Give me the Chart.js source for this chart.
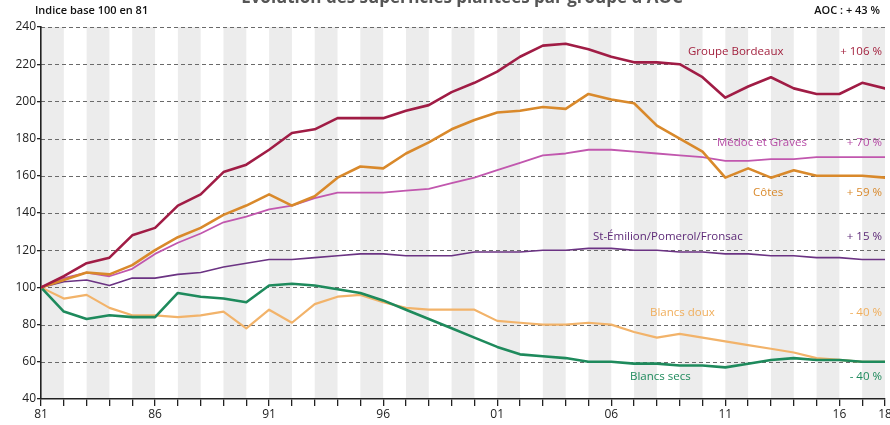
<!DOCTYPE html>
<html>
<head>
<meta charset="utf-8">
<script src="https://cdn.jsdelivr.net/npm/chart.js@4/dist/chart.umd.min.js"></script>
<style>
  html, body { margin: 0; padding: 0; background: #fff; }
  #wrap { width: 890px; height: 425px; }
</style>
</head>
<body>
<div id="wrap"><canvas id="aoc" width="890" height="425"></canvas></div>
<script>
// years 1981 -> 2018
var years = [];
for (var yr = 1981; yr <= 2018; yr++) years.push(yr);

// indice base 100 en 81
var bordeaux   = [100,106,113,116,128,132,144,150,162,166,174,183,185,191,191,191,195,198,205,210,216,224,230,231,228,224,221,221,220,213,202,208,213,207,204,204,210,207];
var cotes      = [100,104,108,107,112,120,127,132,139,144,150,144,149,159,165,164,172,178,185,190,194,195,197,196,204,201,199,187,180,173,159,164,159,163,160,160,160,159];
var medoc      = [100,105,108,106,110,118,124,129,135,138,142,144,148,151,151,151,152,153,156,159,163,167,171,172,174,174,173,172,171,170,168,168,169,169,170,170,170,170];
var stEmilion  = [100,103,104,101,105,105,107,108,111,113,115,115,116,117,118,118,117,117,117,119,119,119,120,120,121,121,120,120,119,119,118,118,117,117,116,116,115,115];
var blancsDoux = [100,94,96,89,85,85,84,85,87,78,88,81,91,95,96,92,89,88,88,88,82,81,80,80,81,80,76,73,75,73,71,69,67,65,62,61,60,60];
var blancsSecs = [100,87,83,85,84,84,97,95,94,92,101,102,101,99,97,93,88,83,78,73,68,64,63,62,60,60,59,59,58,58,57,59,61,62,61,61,60,60];

var xLabelYears = [1981, 1986, 1991, 1996, 2001, 2006, 2011, 2016, 2018];

function pts(arr) {
    return arr.map(function (v, i) { return { x: years[i], y: v }; });
}

var FONT = "'Open Sans', 'DejaVu Sans', sans-serif";

// background bands + dashed grid
var backdrop = {
    id: 'backdrop',
    beforeDraw: function (chart) {
        var ctx = chart.ctx, a = chart.chartArea;
        var xs = chart.scales.x, ys = chart.scales.y;
        ctx.save();
        ctx.fillStyle = '#fff';
        ctx.fillRect(0, 0, chart.width, chart.height);
        ctx.fillStyle = '#ececec';
        for (var i = 0; i < years.length - 1; i += 2) {
            var x0 = xs.getPixelForValue(years[i]);
            var x1 = xs.getPixelForValue(years[i + 1]);
            ctx.fillRect(x0, a.top, x1 - x0, a.bottom - a.top);
        }
        ctx.strokeStyle = '#6a6a6a';
        ctx.lineWidth = 1;
        ctx.setLineDash([4, 3]);
        for (var v = 60; v <= 240; v += 20) {
            var y = Math.round(ys.getPixelForValue(v)) + 0.5;
            ctx.beginPath();
            ctx.moveTo(a.left, y);
            ctx.lineTo(a.right, y);
            ctx.stroke();
        }
        ctx.restore();
    }
};

// texts
var texts = {
    id: 'texts',
    afterDraw: function (chart) {
        var ctx = chart.ctx, a = chart.chartArea;
        ctx.save();
        ctx.textBaseline = 'middle';

        ctx.fillStyle = '#555';
        ctx.font = 'bold 17px ' + FONT;
        ctx.textAlign = 'center';
        ctx.fillText("Évolution des superficies plantées par groupe d'AOC", 462, -2);

        ctx.fillStyle = '#111';
        ctx.font = '600 11px ' + FONT;
        ctx.textAlign = 'left';
        ctx.fillText('Indice base 100 en 81', 35, 11);
        ctx.textAlign = 'right';
        ctx.fillText('AOC : + 43 %', 880, 11);

        var lab = [
            ['Groupe Bordeaux', '+ 106 %', '#a3223f', 688, 52],
            ['Médoc et Graves', '+ 70 %', '#b64ca6', 717, 143],
            ['Côtes', '+ 59 %', '#d9892b', 753, 193],
            ['St-Émilion/Pomerol/Fronsac', '+ 15 %', '#5e2a78', 593, 237],
            ['Blancs doux', '- 40 %', '#f0ae5c', 650, 313],
            ['Blancs secs', '- 40 %', '#1e8a5c', 630, 377]
        ];
        ctx.font = '11.5px ' + FONT;
        lab.forEach(function (l) {
            ctx.fillStyle = l[2];
            ctx.textAlign = 'left';
            ctx.fillText(l[0], l[3], l[4]);
            ctx.textAlign = 'right';
            ctx.fillText(l[1], a.right - 3, l[4]);
        });
        ctx.restore();
    }
};

var ctx = document.getElementById('aoc').getContext('2d');
var chart = new Chart(ctx, {
    type: 'line',
    data: {
        datasets: [
            { label: 'Groupe Bordeaux', data: pts(bordeaux), borderColor: '#a01c45', borderWidth: 2.6 },
            { label: 'Côtes', data: pts(cotes), borderColor: '#d9892b', borderWidth: 2.6 },
            { label: 'Médoc et Graves', data: pts(medoc), borderColor: '#c157ae', borderWidth: 1.8 },
            { label: 'St-Émilion/Pomerol/Fronsac', data: pts(stEmilion), borderColor: '#6b3383', borderWidth: 1.6 },
            { label: 'Blancs secs', data: pts(blancsSecs), borderColor: '#1e8a5c', borderWidth: 2.6 },
            { label: 'Blancs doux', data: pts(blancsDoux), borderColor: '#f2b36a', borderWidth: 2.2 }
        ]
    },
    options: {
        responsive: false,
        animation: false,
        layout: { padding: { top: 27, right: 5, left: 0, bottom: 0 } },
        elements: { point: { radius: 0 }, line: { tension: 0, borderCapStyle: 'round', borderJoinStyle: 'round' } },
        plugins: { legend: { display: false }, tooltip: { enabled: false } },
        scales: {
            x: {
                type: 'linear',
                min: 1981,
                max: 2018,
                afterFit: function (s) { s.height = 26; s.paddingLeft = 0; s.paddingRight = 0; },
                afterBuildTicks: function (s) {
                    s.ticks = years.map(function (v) { return { value: v }; });
                },
                ticks: {
                    autoSkip: false,
                    maxRotation: 0,
                    padding: 1,
                    color: '#222',
                    font: { family: FONT, size: 12 },
                    callback: function (v) {
                        if (xLabelYears.indexOf(v) < 0) return '';
                        return String(v % 100).padStart(2, '0');
                    }
                },
                grid: { drawOnChartArea: false, tickLength: 7, color: '#222', lineWidth: 1.3 },
                border: { color: '#222', width: 1.6 }
            },
            y: {
                min: 40,
                max: 240,
                afterFit: function (s) { s.width = 41; s.paddingTop = 0; s.paddingBottom = 0; },
                ticks: {
                    stepSize: 20,
                    padding: 1,
                    color: '#222',
                    font: { family: FONT, size: 12 }
                },
                grid: { drawOnChartArea: false, tickLength: 4, color: '#222', lineWidth: 1.3 },
                border: { color: '#222', width: 1.6 }
            }
        }
    },
    plugins: [backdrop, texts]
});
</script>
</body>
</html>
